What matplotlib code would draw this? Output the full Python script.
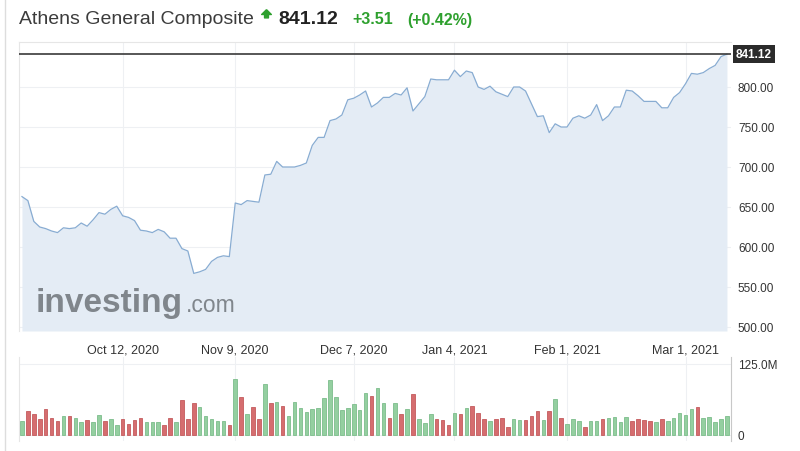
import numpy as np
import pandas as pd
import matplotlib
matplotlib.use("Agg")
from matplotlib import pyplot as plt
from matplotlib.lines import Line2D
from matplotlib.path import Path
import matplotlib.transforms as mtransforms

plt.rcParams['font.family'] = ['Liberation Sans', 'DejaVu Sans']

title = "Athens General Composite"
last_price = "841.12"
change = "+3.51"
change_pct = "(+0.42%)"

# trading days (Athens exchange, holidays removed)
holidays = ['2020-10-28', '2020-12-24', '2020-12-25', '2021-01-01', '2021-01-06']
tick_dates = ['2020-10-12', '2020-11-09', '2020-12-07', '2021-01-04', '2021-02-01', '2021-03-01']
tick_labels = ['Oct 12, 2020', 'Nov 9, 2020', 'Dec 7, 2020', 'Jan 4, 2021', 'Feb 1, 2021', 'Mar 1, 2021']

price = [663, 658, 632, 625, 623, 620, 618, 624, 623, 624,
         630, 626, 634, 643, 641, 647, 651, 639, 637, 633,
         621, 620, 618, 622, 619, 611, 611, 598, 595, 567,
         569, 572, 582, 587, 589, 588, 655, 653, 658, 657,
         656, 690, 691, 707, 700, 700, 700, 702, 705, 727,
         737, 737, 758, 760, 765, 784, 786, 790, 795, 775,
         780, 787, 787, 792, 790, 799, 770, 779, 788, 810,
         809, 809, 809, 821, 813, 820, 818, 800, 797, 801,
         794, 791, 788, 800, 800, 795, 779, 763, 764, 743,
         754, 750, 750, 761, 764, 761, 765, 778, 758, 764,
         775, 775, 796, 795, 789, 782, 782, 782, 774, 774,
         787, 793, 804, 817, 816, 818, 823, 827, 838, 841.12]

# volume in millions
volume = [24, 43, 37, 28, 46, 30, 24, 33, 33, 30,
          23.5, 26, 22, 35, 24, 28, 17.6, 28, 19, 26,
          30.5, 22, 22, 22, 17.6, 30.5, 22, 62, 28, 57,
          50, 33, 28, 25, 25, 17.6, 98, 67.5, 37, 50,
          28, 90, 57, 58.7, 51.6, 32.9, 58.7, 47, 41, 45.8,
          47.5, 64.6, 97.4, 67.5, 44, 47.5, 54, 44, 74, 69,
          82, 56, 30, 56, 37, 45.8, 72, 28, 21, 37,
          28, 26.4, 17.6, 38.7, 37, 47.5, 51.6, 38.7, 28, 25,
          28, 30, 14.7, 28, 26.4, 26.4, 34, 43, 26.4, 43,
          63, 30, 19, 28, 24, 14.7, 24, 25, 28, 30,
          32, 22, 32, 24, 28, 26.4, 24, 22, 28, 24,
          30, 38.7, 35, 45.8, 50, 30, 32, 22, 28, 33]

# U = up day (green), D = down day (red)
direction = ("UDDDDDDUDU" "UDUUDUUDDD" "DUUUDDUDDD" "UUUUUDUDUD"
             "DUDUDUUUUU" "UUUUUUUUUD" "UUDUDUDUUU" "DDDUDUDDDU"
             "DDDUUDDDUD" "UDUUUDUUDU" "UUUDDDDUDU" "UUUUDUUUUU")

price_ticks = [500, 550, 600, 650, 700, 750, 800]

dates = pd.bdate_range('2020-09-17', '2021-03-10')
dates = dates[~dates.isin(pd.to_datetime(holidays))]
tick_pos = [dates.get_loc(pd.Timestamp(d)) for d in tick_dates]

x = np.arange(len(price))
W, H = 800, 452


def px_axes(fig, left, top, right, bottom):
    return fig.add_axes([left / W, 1 - bottom / H, (right - left) / W, (bottom - top) / H])


fig = plt.figure(figsize=(8, 4.52), dpi=100)
fig.patch.set_facecolor('white')

grid_c = '#eef0f3'
text_c = '#333333'

# price panel
ax = px_axes(fig, 19, 43, 731, 332)
ax.set_xlim(-0.5, 119.68)
ax.set_ylim(495, 856.25)
ax.fill_between(x, price, 495, color='#e4ecf5', lw=0, zorder=1)
ax.plot(x, price, color='#88acd2', lw=0.9, zorder=2)
ax.axhline(price[-1], color='#3a3a3a', lw=1.2, zorder=3)

ax.set_yticks(price_ticks)
ax.set_yticklabels(["%.2f" % t for t in price_ticks])
ax.yaxis.tick_right()
ax.tick_params(axis='y', length=0, pad=5, labelsize=8.5, labelcolor=text_c)
ax.set_xticks(tick_pos)
ax.set_xticklabels(tick_labels)
ax.tick_params(axis='x', length=0, pad=9, labelsize=9, labelcolor=text_c)
ax.grid(True, color=grid_c, lw=0.8, zorder=0)
ax.set_axisbelow(True)
for s in ['right', 'bottom']:
    ax.spines[s].set_visible(False)
for s in ['left', 'top']:
    ax.spines[s].set_color('#e6e6e6')
    ax.spines[s].set_linewidth(0.8)

trans = mtransforms.blended_transform_factory(ax.transAxes, ax.transData)
ax.text(1.007, price[-1], last_price, transform=trans, color='white', fontsize=8.5,
        fontweight='bold', va='center', ha='left', zorder=5,
        bbox=dict(boxstyle='square,pad=0.25', fc='#2b2b2b', ec='none'))

# watermark
ax.text(0.024, 0.07, "investing", transform=ax.transAxes, fontsize=24, fontweight='bold',
        color='#80868c', va='baseline', ha='left', zorder=4)
ax.text(0.234, 0.07, ".com", transform=ax.transAxes, fontsize=16.5,
        color='#80868c', va='baseline', ha='left', zorder=4)

# volume panel
av = px_axes(fig, 19, 358, 731, 442)
av.set_xlim(-0.5, 119.68)
av.set_ylim(-10.6, 137.3)
colors = ['#94cfa0' if d == 'U' else '#d56d6f' for d in direction]
edges = ['#7cbd8b' if d == 'U' else '#c45b5d' for d in direction]
av.bar(x, volume, width=0.6, color=colors, edgecolor=edges, lw=0.6, zorder=2)
av.set_yticks([0, 125])
av.set_yticklabels(['0', '125.0M'])
av.yaxis.tick_right()
av.tick_params(axis='y', length=0, pad=5, labelsize=8.5, labelcolor=text_c)
av.set_xticks(tick_pos)
av.set_xticklabels([])
av.tick_params(axis='x', length=0)
av.grid(True, color=grid_c, lw=0.8, zorder=0)
av.set_axisbelow(True)
for s in ['top', 'bottom']:
    av.spines[s].set_visible(False)
av.spines['left'].set_color('#e6e6e6')
av.spines['right'].set_color('#c8c8c8')
av.spines['left'].set_linewidth(0.8)
av.spines['right'].set_linewidth(0.8)

# header
ty = 1 - 20 / H
fig.text(19 / W, ty, title, fontsize=14, color='#3c3c3c', va='center', ha='left')
arrow = Path([(0, 1), (1, 0), (0.4, 0), (0.4, -0.7), (-0.4, -0.7), (-0.4, 0), (-1, 0), (0, 1)])
fig.add_artist(Line2D([266 / W], [1 - 15 / H], marker=arrow, markersize=7, color='#2ea02e',
                      lw=0, transform=fig.transFigure))
fig.text(278 / W, ty, last_price, fontsize=14, fontweight='bold', color='#222222', va='center', ha='left')
fig.text(352 / W, ty, change, fontsize=11.5, fontweight='bold', color='#2ea02e', va='center', ha='left')
fig.text(407 / W, ty, change_pct, fontsize=11.5, fontweight='bold', color='#2ea02e', va='center', ha='left')

# page border on the left
fig.add_artist(Line2D([5 / W, 5 / W], [0, 1], color='#dddddd', lw=1, transform=fig.transFigure))

fig.savefig('out.png', dpi=100)
